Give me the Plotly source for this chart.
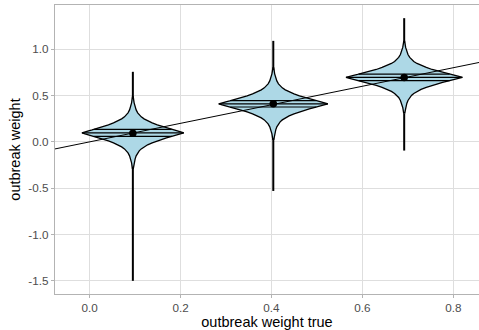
import numpy as np
import plotly.graph_objects as go

# ---- data ----
x_true = [0.095, 0.404, 0.692]           # outbreak weight true (group positions)
est_mean = [0.093, 0.410, 0.694]         # mean estimate (black dot)
est_min = [-1.50, -0.53, -0.094]         # min estimate
est_max = [0.756, 1.09, 1.335]           # max estimate
q25 = [0.060, 0.376, 0.660]
q50 = [0.097, 0.410, 0.695]
q75 = [0.135, 0.445, 0.730]
violin_halfwidth = [0.112, 0.120, 0.128]  # max half-width of each violin (x units)

# violin density profile: vertical offset from centre (y units) and relative width
profile_offset = [0.0, 0.011, 0.022, 0.032, 0.043, 0.054, 0.065, 0.086, 0.108,
                  0.129, 0.151, 0.173, 0.194, 0.216, 0.248, 0.28, 0.324, 0.388]
profile_width = [1.0, 0.94, 0.87, 0.80, 0.73, 0.66, 0.59, 0.48, 0.38,
                 0.29, 0.22, 0.165, 0.125, 0.095, 0.065, 0.045, 0.025, 0.008]

abline_intercept = 0.0
abline_slope = 1.0

x_ticks = [0.0, 0.2, 0.4, 0.6, 0.8]
x_ticktext = ["0.0", "0.2", "0.4", "0.6", "0.8"]
y_ticks = [-1.5, -1.0, -0.5, 0.0, 0.5, 1.0]
y_ticktext = ["-1.5", "-1.0", "-0.5", "0.0", "0.5", "1.0"]

x_range = [-0.0763, 0.8566]
y_range = [-1.642, 1.477]

FILL = "#ADD8E6"
fig = go.Figure()

# vertical range lines (under the violins)
lx, ly = [], []
for xc, lo, hi in zip(x_true, est_min, est_max):
    lx += [xc, xc, None]
    ly += [lo, hi, None]
fig.add_trace(go.Scatter(x=lx, y=ly, mode="lines",
                         line=dict(color="black", width=2), hoverinfo="skip"))

off = np.array(profile_offset)
rw = np.array(profile_width)
for xc, yc, hw, a, m, b in zip(x_true, q50, violin_halfwidth, q25, q50, q75):
    ys = np.concatenate([yc - off[::-1], yc + off[1:]])
    ws = np.concatenate([rw[::-1], rw[1:]]) * hw
    px = np.concatenate([xc + ws, (xc - ws)[::-1]])
    py = np.concatenate([ys, ys[::-1]])
    fig.add_trace(go.Scatter(x=px, y=py, mode="lines", fill="toself",
                             fillcolor=FILL, line=dict(color="black", width=1.3),
                             hoverinfo="skip"))
    qx, qy = [], []
    for q in (a, m, b):
        w = np.interp(abs(q - yc), off, rw) * hw
        qx += [xc - w, xc + w, None]
        qy += [q, q, None]
    fig.add_trace(go.Scatter(x=qx, y=qy, mode="lines",
                             line=dict(color="black", width=1.2), hoverinfo="skip"))

# y = x reference line
ax = np.array(x_range)
fig.add_trace(go.Scatter(x=ax, y=abline_intercept + abline_slope * ax, mode="lines",
                         line=dict(color="black", width=1), hoverinfo="skip"))

# mean points
fig.add_trace(go.Scatter(x=x_true, y=est_mean, mode="markers",
                         marker=dict(color="black", size=7.5), hoverinfo="skip"))

axis_common = dict(
    showgrid=True, gridcolor="#DEDEDE", gridwidth=1, zeroline=False,
    showline=True, linecolor="#B3B3B3", linewidth=1.3,
    ticks="outside", ticklen=3, tickcolor="#B3B3B3", tickwidth=1,
    automargin=False,
    tickfont=dict(family="Liberation Sans, Arial, sans-serif", size=11.7, color="#4D4D4D"),
)
fig.update_layout(
    width=479, height=330,
    margin=dict(l=55, r=0, t=5, b=36),
    paper_bgcolor="white", plot_bgcolor="white",
    showlegend=False,
    font=dict(family="Liberation Sans, Arial, sans-serif"),
    xaxis=dict(range=x_range, tickvals=x_ticks, ticktext=x_ticktext, mirror=True,
               title=dict(text="outbreak weight true", standoff=2,
                          font=dict(size=14.5, color="black")),
               **axis_common),
    yaxis=dict(range=y_range, tickvals=y_ticks, ticktext=y_ticktext, mirror=False,
               title=dict(text="outbreak weight", standoff=4,
                          font=dict(size=14.5, color="black")),
               **axis_common),
)

fig.write_html("out.html", config={"displayModeBar": False},
               post_script="document.body.style.margin='0';document.body.style.overflow='hidden';")
